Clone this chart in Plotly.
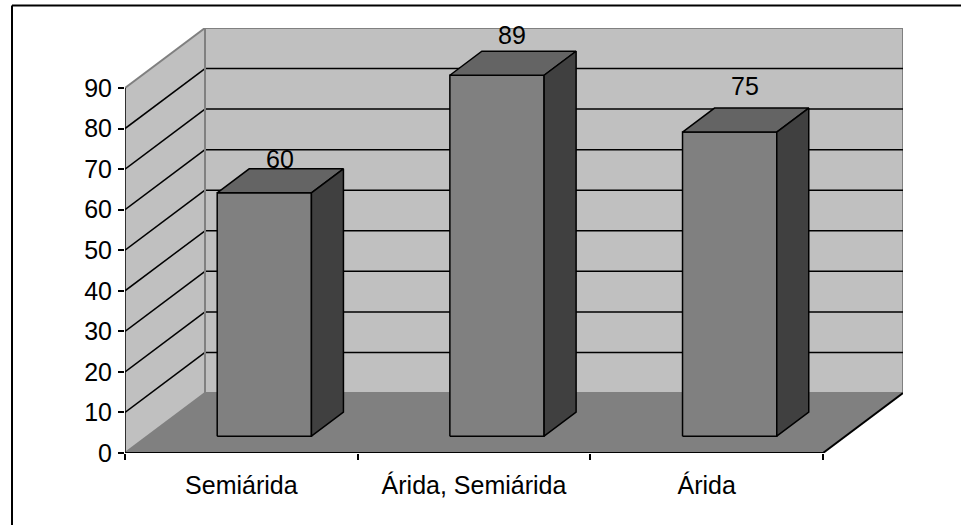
import plotly.graph_objects as go

# Chart data
categories = ["Semiárida", "Árida, Semiárida", "Árida"]
values = [60, 89, 75]
y_ticks = [0, 10, 20, 30, 40, 50, 60, 70, 80, 90]

# 3-D box geometry (in axis units)
Y_MAX = 90
DX = 80 / 232.67          # depth offset along x, in category units
DY = 60 / (365 / 90)      # depth offset along y, in value units
F0, F1 = 0.28, 0.68       # front / back depth of the columns
BAR_L, BAR_R = 0.3, 0.705 # column extent inside each category band

WALL = "#C0C0C0"
FLOOR = "#808080"
EDGE = "#808080"
FRONT = "#808080"
TOP = "#646464"
SIDE = "#404040"
FONT = "Liberation Sans, Arial, sans-serif"
FONT_SIZE = 25


def proj(x, v, f):
    return x + f * DX, v + f * DY


fig = go.Figure()
shapes = []


def poly(points, fill, line_color, width):
    path = "M " + " L ".join(f"{x},{y}" for x, y in points) + " Z"
    shapes.append(dict(type="path", path=path, xref="x", yref="y",
                       fillcolor=fill, line=dict(color=line_color, width=width),
                       layer="below"))


def seg(p, q, color, width):
    shapes.append(dict(type="line", xref="x", yref="y", x0=p[0], y0=p[1],
                       x1=q[0], y1=q[1], line=dict(color=color, width=width),
                       layer="below"))


n = len(categories)
# walls and floor
poly([proj(0, 0, 1), proj(n, 0, 1), proj(n, Y_MAX, 1), proj(0, Y_MAX, 1)], WALL, EDGE, 2)
poly([(0, 0), proj(0, 0, 1), proj(0, Y_MAX, 1), (0, Y_MAX)], WALL, "rgba(0,0,0,0)", 0)
poly([(0, 0), (n, 0), proj(n, 0, 1), proj(0, 0, 1)], FLOOR, "rgba(0,0,0,0)", 0)

# gridlines on back and side walls
for v in y_ticks[1:-1]:
    seg(proj(0, v, 1), proj(n, v, 1), "black", 1.5)
    seg((0, v), proj(0, v, 1), "black", 1.5)

# box edges
seg((0, Y_MAX), proj(0, Y_MAX, 1), EDGE, 2)
seg((0, 0), proj(0, 0, 1), EDGE, 2)
seg(proj(0, 0, 1), proj(0, Y_MAX, 1), EDGE, 2)
seg(proj(0, 0, 1), proj(n, 0, 1), EDGE, 2)
seg((0, 0), (0, Y_MAX), "black", 1.5)
seg((0, 0), (n, 0), "black", 2)
seg((n, 0), proj(n, 0, 1), "black", 2)

# columns
for i, v in enumerate(values):
    xl, xr = i + BAR_L, i + BAR_R
    faces = [
        ([proj(xl, 0, F0), proj(xr, 0, F0), proj(xr, v, F0), proj(xl, v, F0)], FRONT),
        ([proj(xl, v, F0), proj(xr, v, F0), proj(xr, v, F1), proj(xl, v, F1)], TOP),
        ([proj(xr, 0, F0), proj(xr, 0, F1), proj(xr, v, F1), proj(xr, v, F0)], SIDE),
    ]
    for pts, col in faces:
        xs = [p[0] for p in pts] + [pts[0][0]]
        ys = [p[1] for p in pts] + [pts[0][1]]
        fig.add_trace(go.Scatter(x=xs, y=ys, mode="lines", fill="toself",
                                 fillcolor=col, line=dict(color="black", width=1.5),
                                 hoverinfo="skip", showlegend=False))

# value labels above each column
annotations = []
for i, v in enumerate(values):
    cx, cy = proj(i + 0.5, v, (F0 + F1) / 2)
    annotations.append(dict(x=cx, y=cy, xref="x", yref="y", text=str(v),
                            showarrow=False, yshift=22 + 6 * i,
                            font=dict(family=FONT, size=FONT_SIZE, color="black")))

# outer frame (top and left edges)
shapes.append(dict(type="line", xref="paper", yref="paper",
                   x0=(12 - 125) / 778, x1=1.2, y0=(453 - 5.5) / 425, y1=(453 - 5.5) / 425,
                   line=dict(color="black", width=2)))
shapes.append(dict(type="line", xref="paper", yref="paper",
                   x0=(12 - 125) / 778, x1=(12 - 125) / 778, y0=(453 - 5.5) / 425, y1=-0.3,
                   line=dict(color="black", width=2)))

fig.update_layout(
    width=961, height=525,
    margin=dict(l=125, r=58, t=28, b=72),
    paper_bgcolor="white", plot_bgcolor="rgba(0,0,0,0)",
    shapes=shapes, annotations=annotations,
    font=dict(family=FONT, size=FONT_SIZE, color="black"),
    xaxis=dict(range=[0, n + DX], showgrid=False, zeroline=False, showline=False,
               tickmode="array", tickvals=[i + 0.5 for i in range(n)], ticktext=categories,
               ticks="", ticklabelstandoff=15,
               minor=dict(tickmode="array", tickvals=list(range(n + 1)), ticks="outside",
                          ticklen=6, tickwidth=1.5, tickcolor="black", showgrid=False)),
    yaxis=dict(range=[0, Y_MAX + DY], showgrid=False, zeroline=False, showline=False,
               tickmode="array", tickvals=y_ticks, ticks="outside", ticklen=6,
               tickwidth=1.5, tickcolor="black", ticklabelstandoff=1),
)

fig.write_html("out.html")
